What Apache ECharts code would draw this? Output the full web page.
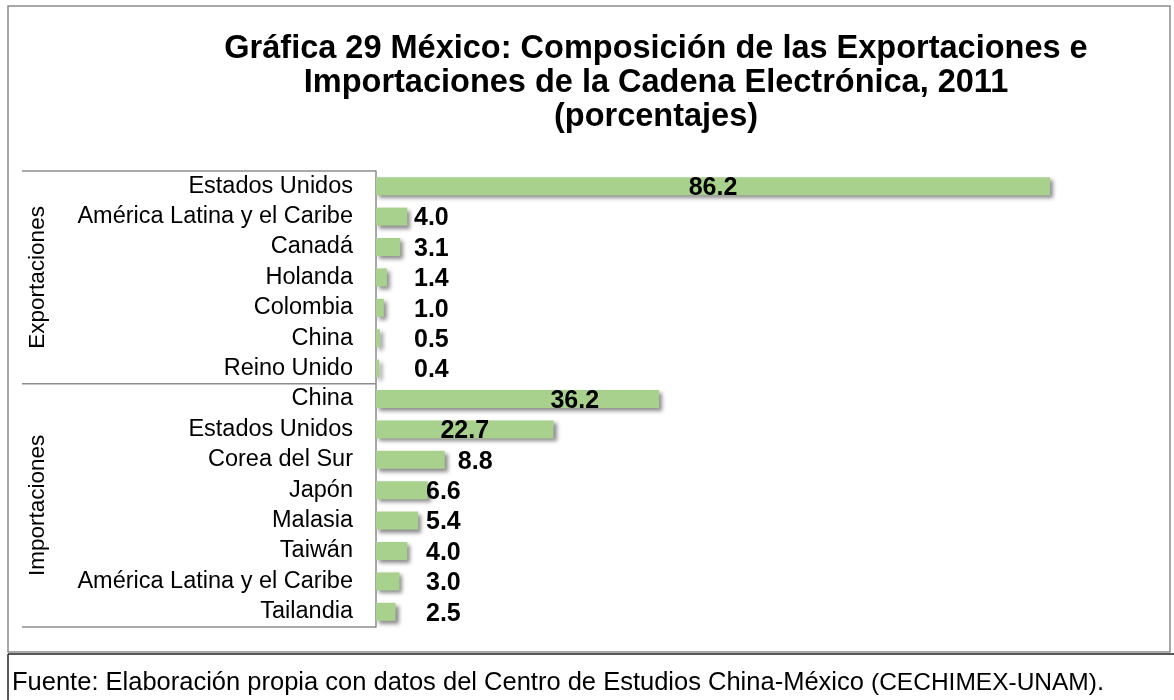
<!DOCTYPE html>
<html>
<head>
<meta charset="utf-8">
<script src="https://cdn.jsdelivr.net/npm/echarts@6/dist/echarts.min.js"></script>
<style>
  html, body { margin: 0; padding: 0; background: #fff; }
  #chart { width: 1174px; height: 700px; }
</style>
</head>
<body>
<div id="chart"></div>
<script>
const exportCountries = ['Estados Unidos', 'América Latina y el Caribe', 'Canadá', 'Holanda', 'Colombia', 'China', 'Reino Unido'];
const exportValues = [86.2, 4.0, 3.1, 1.4, 1.0, 0.5, 0.4];
const importCountries = ['China', 'Estados Unidos', 'Corea del Sur', 'Japón', 'Malasia', 'Taiwán', 'América Latina y el Caribe', 'Tailandia'];
const importValues = [36.2, 22.7, 8.8, 6.6, 5.4, 4.0, 3.0, 2.5];

const FONT = 'Arial, "Liberation Sans", sans-serif';
const gridTop = 171, gridBottom = 73, gridLeft = 376, gridRight = 16;

// label placement roughly like the Excel original
function labelFor(v, group) {
    if (v >= 50) return {position: 'inside'};
    if (v >= 30) return {position: 'insideRight', distance: 60};
    if (v >= 20) return {position: 'inside'};
    if (v >= 8) return {position: 'right', distance: 13};
    return {position: 'insideLeft', distance: group === 'exp' ? 38 : 50};
}

const categories = exportCountries.concat(importCountries);
const barData = [];
exportValues.forEach(function (v) {
    barData.push({value: v, label: labelFor(v, 'exp')});
});
importValues.forEach(function (v) {
    barData.push({value: v, label: labelFor(v, 'imp')});
});

const myChart = echarts.init(document.getElementById('chart'));

const plotH = 700 - gridTop - gridBottom;
const sepY = gridTop + exportCountries.length * plotH / categories.length;
const expMid = (gridTop + sepY) / 2;
const impMid = (sepY + gridTop + plotH) / 2;

const option = {
    backgroundColor: '#fff',
    title: {
        text: 'Gráfica 29 México: Composición de las Exportaciones e\nImportaciones de la Cadena Electrónica, 2011\n(porcentajes)',
        left: 656,
        top: 32,
        padding: 0,
        textAlign: 'center',
        textStyle: {
            fontFamily: FONT,
            fontSize: 32.5,
            fontWeight: 'bold',
            lineHeight: 34,
            color: '#000'
        }
    },
    grid: {left: gridLeft, right: gridRight, top: gridTop, bottom: gridBottom},
    xAxis: {
        type: 'value',
        min: 0,
        max: 100,
        show: false
    },
    yAxis: {
        type: 'category',
        inverse: true,
        data: categories,
        axisLine: {show: true, lineStyle: {color: '#8c8c8c', width: 1.5}},
        axisTick: {show: false},
        axisLabel: {
            interval: 0,
            margin: 23,
            fontFamily: FONT,
            fontSize: 23.5,
            color: '#000'
        }
    },
    series: [
        {
            type: 'bar',
            barWidth: 18,
            data: barData,
            itemStyle: {
                color: '#a9d18e',
                shadowBlur: 4,
                shadowColor: 'rgba(0,0,0,0.45)',
                shadowOffsetX: 3,
                shadowOffsetY: 3
            },
            label: {
                show: true,
                formatter: function (p) { return p.value.toFixed(1); },
                fontFamily: FONT,
                fontSize: 25,
                fontWeight: 'bold',
                color: '#000',
                offset: [0, 2]
            },
            z: 3
        }
    ],
    graphic: [
        // outer chart border
        {type: 'rect', shape: {x: 8, y: 6, width: 1162, height: 646},
         style: {fill: null, stroke: '#8c8c8c', lineWidth: 1.5}, silent: true},
        // category group lines
        {type: 'line', shape: {x1: 22, y1: gridTop, x2: gridLeft, y2: gridTop},
         style: {stroke: '#8c8c8c', lineWidth: 1.5}},
        {type: 'line', shape: {x1: 22, y1: sepY, x2: gridLeft, y2: sepY},
         style: {stroke: '#8c8c8c', lineWidth: 1.5}},
        {type: 'line', shape: {x1: 22, y1: gridTop + plotH, x2: gridLeft, y2: gridTop + plotH},
         style: {stroke: '#8c8c8c', lineWidth: 1.5}},
        {type: 'text', x: 38, y: expMid, rotation: Math.PI / 2,
         style: {text: 'Exportaciones', font: '22.5px ' + FONT, fill: '#000',
                 textAlign: 'center', textVerticalAlign: 'middle'}},
        {type: 'text', x: 38, y: impMid, rotation: Math.PI / 2,
         style: {text: 'Importaciones', font: '22.5px ' + FONT, fill: '#000',
                 textAlign: 'center', textVerticalAlign: 'middle'}},
        // footer box
        {type: 'line', shape: {x1: 8, y1: 654, x2: 1174, y2: 654},
         style: {stroke: '#222', lineWidth: 1.5}},
        {type: 'line', shape: {x1: 8, y1: 654, x2: 8, y2: 700},
         style: {stroke: '#222', lineWidth: 1.5}},
        {type: 'text', x: 12, y: 683,
         style: {
             text: '{a|Fuente: Elaboración propia con datos del Centro de Estudios China-México }{b|(CECHIMEX-UNAM)}{a|.}',
             textVerticalAlign: 'middle',
             rich: {
                 a: {fontFamily: FONT, fontSize: 25.5, fill: '#000', color: '#000'},
                 b: {fontFamily: FONT, fontSize: 24.5, fill: '#000', color: '#000'}
             }
         }}
    ]
};

myChart.setOption(option);
</script>
</body>
</html>
